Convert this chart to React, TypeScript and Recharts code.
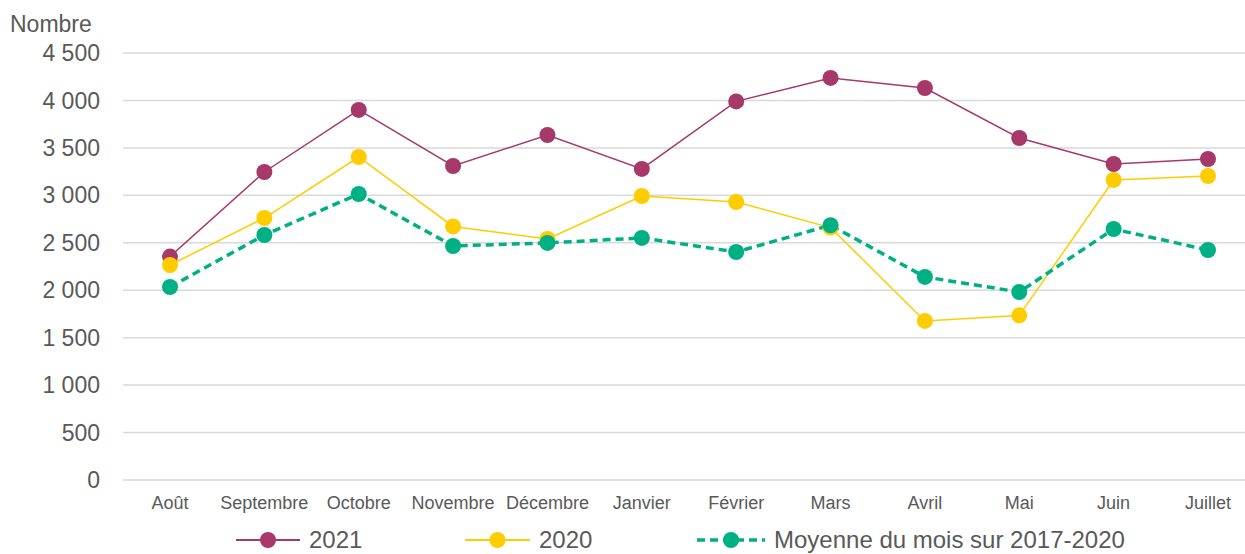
import { LineChart, Line, XAxis, YAxis, CartesianGrid } from 'recharts'

const months = ['Août', 'Septembre', 'Octobre', 'Novembre', 'Décembre', 'Janvier', 'Février', 'Mars', 'Avril', 'Mai', 'Juin', 'Juillet']
const y2021 = [2355, 3246, 3900, 3309, 3636, 3278, 3990, 4237, 4131, 3604, 3330, 3383]
const y2020 = [2266, 2761, 3404, 2672, 2540, 2993, 2930, 2660, 1676, 1735, 3162, 3204]
const avg = [2034, 2582, 3014, 2466, 2498, 2551, 2403, 2685, 2140, 1981, 2645, 2424]
const yTicks = [0, 500, 1000, 1500, 2000, 2500, 3000, 3500, 4000, 4500]

const C21 = '#A6386A'
const C20 = '#FFCC00'
const CAVG = '#00B085'
const TEXT = '#595959'
const FONT = '"Liberation Sans", Arial, sans-serif'

const data = months.map((m, i) => ({ m, a: y2021[i], b: y2020[i], c: avg[i] }))

const fmt = (v: number) => (v >= 1000 ? `${Math.floor(v / 1000)} ${String(v % 1000).padStart(3, '0')}` : String(v))

function Icon({ color, dashed, width }: { color: string; dashed?: boolean; width: number }) {
  return (
    <svg width={width} height={20} style={{ display: 'block' }}>
      <line
        x1={0}
        x2={width}
        y1={10}
        y2={10}
        stroke={color}
        strokeWidth={dashed ? 3.5 : 2}
        strokeDasharray={dashed ? '8 5' : undefined}
      />
      <circle cx={width / 2} cy={10} r={8} fill={color} />
    </svg>
  )
}

const legendItems = [
  { label: '2021', color: C21, left: 236, w: 64 },
  { label: '2020', color: C20, left: 465, w: 65 },
  { label: 'Moyenne du mois sur 2017-2020', color: CAVG, left: 697, w: 68, dashed: true },
]

export default function App() {
  return (
    <div style={{ position: 'fixed', left: 0, top: 0, width: 1245, height: 554, overflow: 'hidden', fontFamily: FONT, background: '#fff' }}>
      <div style={{ position: 'absolute', left: 10, top: 10, fontSize: 23, color: TEXT, lineHeight: '28px' }}>Nombre</div>
      <LineChart width={1255} height={554} data={data} margin={{ top: 53, right: 0, left: 0, bottom: 44 }}>
        <CartesianGrid vertical={false} stroke="#D9D9D9" strokeWidth={1.5} />
        <XAxis
          dataKey="m"
          height={30}
          padding={{ left: 47, right: 47 }}
          axisLine={false}
          tickLine={false}
          tickSize={0}
          tickMargin={16}
          interval={0}
          tick={{ fontSize: 18, fill: TEXT, fontFamily: FONT }}
        />
        <YAxis
          width={123}
          domain={[0, 4500]}
          ticks={yTicks}
          axisLine={false}
          tickLine={false}
          tickSize={0}
          tickMargin={23}
          tickFormatter={fmt}
          tick={{ fontSize: 23, fill: TEXT, fontFamily: FONT }}
        />
        <Line dataKey="a" stroke={C21} strokeWidth={1.5} dot={{ r: 8, fill: C21, stroke: 'none' }} isAnimationActive={false} />
        <Line dataKey="b" stroke={C20} strokeWidth={1.5} dot={{ r: 8, fill: C20, stroke: 'none' }} isAnimationActive={false} />
        <Line dataKey="c" stroke={CAVG} strokeWidth={3.5} strokeDasharray="8 5" dot={{ r: 8, fill: CAVG, stroke: 'none' }} isAnimationActive={false} />
      </LineChart>
      {legendItems.map(it => (
        <div key={it.label} style={{ position: 'absolute', left: it.left, top: 527, display: 'flex', alignItems: 'center', gap: 9, fontSize: 24, color: TEXT, lineHeight: '26px' }}>
          <Icon color={it.color} width={it.w} dashed={it.dashed} />
          <span>{it.label}</span>
        </div>
      ))}
    </div>
  )
}
